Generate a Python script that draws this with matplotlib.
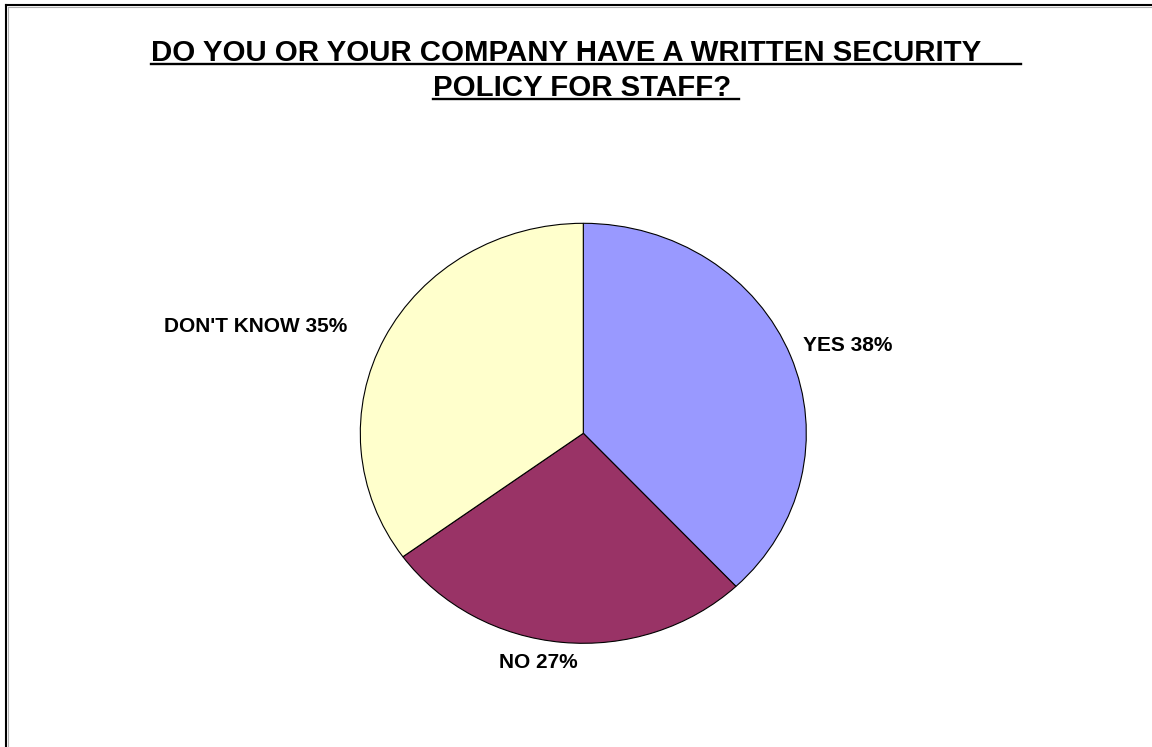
import matplotlib
matplotlib.use("Agg")
import matplotlib.pyplot as plt
from matplotlib.lines import Line2D
import numpy as np

# Survey answers
categories = ["YES", "NO", "DON'T KNOW"]
shares = [38, 27, 35]
colors = ["#9999FF", "#993366", "#FFFFCC"]
title_lines = ["DO YOU OR YOUR COMPANY HAVE A WRITTEN SECURITY     ",
               "POLICY FOR STAFF? "]

W, H, DPI = 1152, 747, 100
plt.rcParams['font.family'] = ['Liberation Sans', 'DejaVu Sans']
fig = plt.figure(figsize=(W / DPI, H / DPI), dpi=DPI)
fig.patch.set_facecolor("white")

# Chart-area frame (top and left edges with a soft shadow)
def px(x, y):
    return x / W, 1 - y / H

for (x0, y0, x1, y1), c, lw in [((6, 4.5, W, 4.5), "black", 1.5),
                                  ((6, 4.5, 6, H), "black", 1.5),
                                  ((7.5, 6.5, W, 6.5), "#b0b0b0", 0.8),
                                  ((7.8, 6.5, 7.8, H), "#b0b0b0", 0.8)]:
    a, b = px(x0, y0)
    c2, d = px(x1, y1)
    fig.add_artist(Line2D([a, c2], [b, d], color=c, lw=lw, transform=fig.transFigure))

# Pie axes: slightly wider than tall
cx, cy, rx, ry = 583.3, 433.3, 223, 210
ax = fig.add_axes([(cx - rx) / W, (H - cy - ry) / H, 2 * rx / W, 2 * ry / H])
wedges, _ = ax.pie(shares, colors=colors, startangle=90, counterclock=False,
                   wedgeprops=dict(edgecolor="black", linewidth=0.8))
ax.set_aspect("auto")
ax.set_xlim(-1, 1)
ax.set_ylim(-1, 1)
ax.axis("off")

# Data labels placed outside each wedge
label_style = {
    "YES": dict(r=1.06, ha="left", va="center", dx=0.0, dy=0.03),
    "NO": dict(r=1.05, ha="center", va="top", dx=-0.105, dy=0.0),
    "DON'T KNOW": dict(r=1.19, ha="right", va="center", dx=0.0, dy=-0.03),
}
for w, cat, val in zip(wedges, categories, shares):
    ang = np.deg2rad((w.theta1 + w.theta2) / 2)
    s = label_style[cat]
    x = s["r"] * np.cos(ang) + s["dx"]
    y = s["r"] * np.sin(ang) + s["dy"]
    ax.text(x, y, f"{cat} {val}%", ha=s["ha"], va=s["va"], fontsize=15,
            fontweight="bold", color="black", clip_on=False)

# Underlined two-line title
fig.canvas.draw()
renderer = fig.canvas.get_renderer()
title_fs = 21.2
title_cx = 586
baselines = [61, 96]
for line, base in zip(title_lines, baselines):
    visible = line.rstrip()
    n_trail = len(line) - len(visible)
    t = fig.text(0.5, 1 - base / H, visible, ha="center", va="baseline",
                 fontsize=title_fs, fontweight="bold")
    # width of trailing spaces
    p1 = fig.text(0, 0, "x" + " " * n_trail + "x", fontsize=title_fs, fontweight="bold")
    p2 = fig.text(0, 0, "xx", fontsize=title_fs, fontweight="bold")
    sp = p1.get_window_extent(renderer).width - p2.get_window_extent(renderer).width
    p1.remove(); p2.remove()
    bb = t.get_window_extent(renderer)
    total = bb.width + sp
    left = title_cx - total / 2
    t.set_position(((left + bb.width / 2) / W, 1 - base / H))
    uy = 1 - (base + 3) / H
    fig.add_artist(Line2D([left / W, (left + total) / W], [uy, uy], color="black",
                          lw=1.7, transform=fig.transFigure))

fig.savefig("out.png", dpi=DPI, facecolor="white")
